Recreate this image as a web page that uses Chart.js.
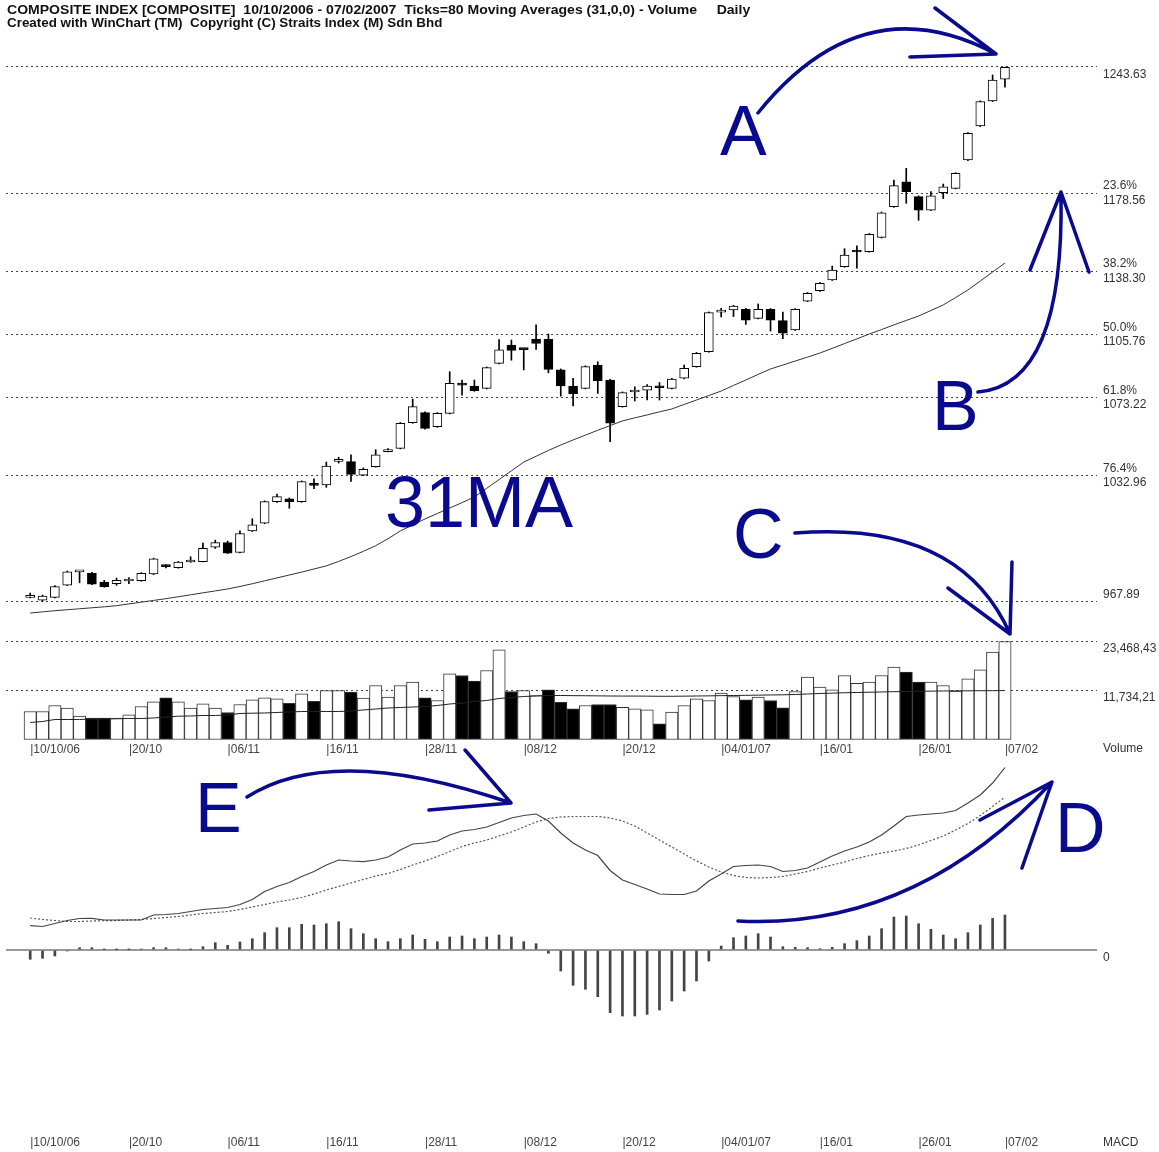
<!DOCTYPE html>
<html>
<head>
<meta charset="utf-8">
<title>Composite Index - WinChart</title>
<script src="https://cdn.jsdelivr.net/npm/chart.js@4.4.1/dist/chart.umd.min.js"></script>
<style>
  body { margin: 0; background: #fff; }
  #wrap { position: relative; width: 1159px; height: 1152px; overflow: hidden; font-family: 'Liberation Sans', Arial, sans-serif; }
  #wrap canvas { position: absolute; left: 0; top: 0; }
  .head { position: absolute; left: 7px; font-weight: bold; font-size: 13px; line-height: 13px; white-space: nowrap; transform-origin: 0 0; color: #111; }
  .cap { position: absolute; left: 1103px; font-size: 12px; line-height: 14px; color: #333; }
</style>
</head>
<body>
<div id="wrap">
  <canvas id="price" width="1159" height="1152"></canvas>
  <canvas id="volume" width="1159" height="1152"></canvas>
  <canvas id="macd" width="1159" height="1152"></canvas>
  <div class="head" data-w="743" style="top:3px">COMPOSITE INDEX [COMPOSITE]&nbsp; 10/10/2006 - 07/02/2007&nbsp; Ticks=80 Moving Averages (31,0,0) - Volume &nbsp;&nbsp;&nbsp; Daily</div>
  <div class="head" data-w="435" style="top:16px">Created with WinChart (TM)&nbsp; Copyright (C) Straits Index (M) Sdn Bhd</div>
  <div class="cap" style="top:741px">Volume</div>
  <div class="cap" style="top:1135px">MACD</div>
</div>
<script>
// date ticks (every 8 sessions + last day)
const dateTicks = [0, 8, 16, 24, 32, 40, 48, 56, 64, 72, 79];
const dateLabels = ['|10/10/06', '|20/10', '|06/11', '|16/11', '|28/11', '|08/12', '|20/12', '|04/01/07', '|16/01', '|26/01', '|07/02'];

// fibonacci levels on the price panel
const fibLevels = [967.89, 1032.96, 1073.22, 1105.76, 1138.30, 1178.56, 1243.63];
const fibLabels = [['967.89', ''], ['76.4%', '1032.96'], ['61.8%', '1073.22'], ['50.0%', '1105.76'], ['38.2%', '1138.30'], ['23.6%', '1178.56'], ['', '1243.63']];

const volLevels = [11734.21, 23468.43];
const volLabels = [['', '11,734,21'], ['', '23,468,43']];

const open = [970.3, 968.8, 970.3, 976.6, 983.4, 982.7, 978.1, 977.3, 978.7, 978.9,
  982.3, 986.9, 985.6, 988.5, 988.7, 996.1, 998.5, 993.4, 1004.5, 1008.5,
  1019.6, 1021.0, 1019.6, 1028.4, 1028.2, 1040.4, 1040.2, 1033.3, 1037.7, 1045.4,
  1047.1, 1060.3, 1065.5, 1058.2, 1065.1, 1080.1, 1079.2, 1078.0, 1090.9, 1100.3,
  1098.3, 1103.4, 1103.3, 1087.5, 1079.2, 1078.0, 1090.0, 1082.3, 1068.6, 1076.1,
  1077.1, 1078.7, 1078.0, 1083.2, 1089.2, 1096.9, 1117.3, 1118.4, 1118.7, 1114.1,
  1118.7, 1112.9, 1108.1, 1123.0, 1128.3, 1133.9, 1140.7, 1148.8, 1148.5, 1155.8,
  1171.6, 1184.5, 1176.8, 1169.9, 1178.8, 1181.1, 1195.7, 1213.2, 1226.1, 1237.4];
const high = [972.5, 971.5, 976.3, 983.8, 983.8, 983.2, 979.0, 980.2, 980.5, 983.0,
  990.5, 987.2, 988.8, 991.2, 998.2, 999.8, 999.3, 1004.6, 1010.8, 1020.0,
  1023.5, 1021.5, 1030.3, 1031.4, 1040.0, 1042.5, 1043.7, 1037.0, 1046.4, 1047.0,
  1060.4, 1072.4, 1065.9, 1065.5, 1086.6, 1082.3, 1082.3, 1089.0, 1103.2, 1102.9,
  1098.5, 1110.7, 1106.0, 1088.0, 1083.2, 1089.6, 1091.7, 1082.6, 1076.2, 1078.8,
  1080.0, 1081.0, 1083.2, 1090.0, 1096.5, 1117.4, 1119.3, 1120.8, 1119.2, 1121.5,
  1119.1, 1117.3, 1119.1, 1127.4, 1132.5, 1141.0, 1150.0, 1151.5, 1157.8, 1168.9,
  1185.4, 1191.4, 1177.2, 1179.4, 1183.3, 1189.2, 1209.8, 1226.2, 1239.5, 1243.63];
const low = [970.0, 968.3, 970.0, 976.3, 977.8, 976.8, 975.5, 976.5, 977.3, 978.6,
  982.0, 985.5, 985.3, 988.3, 988.5, 995.5, 992.8, 993.2, 1004.2, 1008.2,
  1019.2, 1016.2, 1019.3, 1026.3, 1027.0, 1039.5, 1030.0, 1033.0, 1037.4, 1045.2,
  1046.8, 1060.0, 1057.0, 1057.9, 1064.8, 1074.5, 1076.5, 1077.7, 1090.6, 1092.5,
  1087.5, 1098.1, 1086.0, 1074.0, 1068.9, 1077.7, 1075.4, 1050.5, 1068.3, 1071.5,
  1072.0, 1072.0, 1077.7, 1082.9, 1088.9, 1096.6, 1114.8, 1115.0, 1110.9, 1113.8,
  1107.5, 1103.6, 1107.8, 1122.7, 1128.0, 1133.6, 1140.4, 1140.0, 1148.2, 1155.5,
  1171.3, 1173.4, 1164.6, 1169.6, 1175.8, 1180.8, 1195.4, 1212.9, 1225.8, 1233.2];
const close = [970.8, 971.0, 975.8, 983.5, 983.6, 977.1, 975.8, 979.0, 979.2, 982.7,
  990.1, 986.1, 988.4, 989.5, 995.6, 998.5, 993.1, 1003.2, 1007.6, 1019.6,
  1022.2, 1019.6, 1029.9, 1028.0, 1038.0, 1040.6, 1033.7, 1036.3, 1043.7, 1046.4,
  1060.0, 1068.6, 1057.4, 1065.1, 1080.6, 1079.7, 1076.8, 1088.7, 1097.8, 1097.5,
  1098.0, 1101.2, 1087.8, 1079.2, 1075.1, 1089.2, 1082.0, 1060.0, 1075.8, 1076.5,
  1079.2, 1078.3, 1082.8, 1088.3, 1096.1, 1117.0, 1117.7, 1120.4, 1113.2, 1118.7,
  1113.2, 1106.4, 1118.7, 1127.0, 1132.1, 1139.0, 1146.7, 1148.3, 1157.4, 1168.5,
  1182.5, 1179.4, 1169.9, 1177.2, 1181.9, 1188.8, 1209.4, 1225.8, 1236.9, 1243.4];

// 31 day moving average
const ma31 = [962.2, 962.8, 963.4, 963.9, 964.4, 964.9, 965.4, 966.0, 966.9, 967.8,
  968.7, 969.6, 970.6, 971.6, 972.6, 973.6, 974.6, 975.9, 977.3, 978.8,
  980.3, 981.8, 983.3, 984.9, 986.5, 988.8, 991.3, 994.0, 996.9, 1000.5,
  1004.5, 1007.6, 1010.7, 1013.5, 1016.3, 1019.1, 1022.0, 1026.5, 1031.0, 1035.5,
  1040.0, 1043.0, 1046.0, 1048.8, 1051.4, 1053.9, 1056.4, 1058.8, 1061.2, 1062.8,
  1064.3, 1065.9, 1067.4, 1069.7, 1072.0, 1074.3, 1076.6, 1079.5, 1082.3, 1085.2,
  1088.0, 1090.0, 1092.1, 1094.1, 1096.2, 1098.6, 1101.1, 1103.5, 1106.0, 1108.3,
  1110.7, 1113.0, 1115.3, 1118.1, 1121.0, 1124.8, 1128.7, 1133.3, 1138.0, 1142.6];

const volume = [6700, 6700, 8150, 7500, 5600, 5100, 5100, 5100, 5900, 7900,
  9050, 9990, 9030, 7500, 8550, 7500, 6470, 8380, 9510, 9990,
  9750, 8690, 10950, 9170, 11740, 11740, 11330, 9890, 12930, 10130,
  12930, 13730, 9990, 9340, 15740, 15330, 13970, 16530, 21480, 11500,
  11740, 10540, 11900, 8930, 7350, 8140, 8380, 8380, 7700, 7350,
  7100, 3760, 6540, 8140, 9750, 9340, 11090, 10300, 9500, 10130,
  9340, 7590, 11500, 14930, 12530, 11900, 15330, 13480, 13730, 15330,
  17320, 16120, 13730, 13730, 12930, 11570, 14530, 16680, 20920, 23468];
const volumeMA = [4070, 4310, 4790, 4790, 4790, 4910, 4910, 4960, 5030, 5030,
  5150, 5390, 5580, 5630, 5750, 5750, 5870, 6230, 6300, 6350,
  6470, 6590, 6700, 6700, 6700, 6700, 6830, 7070, 7300, 7540,
  7660, 7780, 7900, 8140, 8500, 8740, 9100, 9340, 9820, 10060,
  10300, 10420, 10540, 10540, 10500, 10480, 10450, 10420, 10400, 10400,
  10380, 10350, 10350, 10380, 10420, 10450, 10500, 10540, 10580, 10620,
  10660, 10700, 10780, 10900, 11020, 11100, 11200, 11260, 11320, 11380,
  11450, 11500, 11550, 11580, 11620, 11640, 11660, 11680, 11700, 11720];

const macdLine = [2.43, 2.35, 2.65, 2.95, 3.15, 3.17, 3.0, 3.0, 3.0, 3.0,
  3.5, 3.55, 3.65, 3.85, 4.05, 4.15, 4.25, 4.55, 5.05, 5.85,
  6.35, 6.75, 7.35, 7.85, 8.5, 9.0, 8.9, 8.83, 9.0, 9.3,
  10.0, 10.6, 10.7, 10.9, 11.5, 11.9, 12.05, 12.3, 12.75, 13.2,
  13.45, 13.6, 12.9, 11.7, 10.7, 10.0, 9.45, 7.95, 7.0, 6.55,
  6.1, 5.6, 5.55, 5.55, 5.9, 6.9, 7.6, 8.35, 8.45, 8.5,
  8.35, 7.85, 7.95, 8.2, 8.8, 9.4, 9.9, 10.3, 10.8, 11.5,
  12.4, 13.35, 13.5, 13.6, 13.7, 13.95, 14.7, 15.5, 16.7, 18.25];
const signalLine = [3.2, 3.05, 2.95, 2.85, 2.85, 2.9, 2.93, 2.95, 3.0, 3.05,
  3.15, 3.25, 3.35, 3.5, 3.65, 3.75, 3.85, 4.05, 4.3, 4.55,
  4.8, 5.0, 5.25, 5.6, 6.0, 6.35, 6.7, 7.05, 7.4, 7.65,
  8.05, 8.5, 8.9, 9.35, 9.85, 10.35, 10.7, 11.0, 11.4, 11.8,
  12.3, 12.8, 13.15, 13.3, 13.35, 13.35, 13.35, 13.2, 12.9, 12.4,
  11.7, 11.0, 10.3, 9.6, 8.9, 8.3, 7.8, 7.45, 7.25, 7.2,
  7.25, 7.35, 7.6, 7.85, 8.2, 8.5, 8.8, 9.15, 9.45, 9.7,
  9.9, 10.15, 10.5, 10.95, 11.4, 12.0, 12.65, 13.45, 14.35, 15.3];
const macdHist = [-0.93, -0.83, -0.6, -0.1, 0.23, 0.23, 0.05, 0.03, 0.03, 0.08,
  0.23, 0.23, 0.1, 0.05, 0.33, 0.73, 0.47, 0.8, 1.13, 1.73,
  2.23, 2.23, 2.57, 2.5, 2.63, 2.83, 2.13, 1.63, 1.13, 0.83,
  1.13, 1.5, 1.07, 0.83, 1.3, 1.4, 1.13, 1.3, 1.5, 1.3,
  0.83, 0.63, -0.33, -2.1, -3.53, -3.93, -4.67, -6.27, -6.6, -6.6,
  -6.43, -6.0, -5.1, -4.1, -3.1, -1.1, 0.4, 1.23, 1.4, 1.63,
  1.3, 0.33, 0.27, 0.23, 0.13, 0.27, 0.63, 0.93, 1.4, 2.13,
  3.3, 3.4, 2.63, 2.07, 1.5, 1.13, 1.73, 2.5, 3.17, 3.5];

// shared horizontal mapping (same for all three panels)
const xMin = -1.961, xMax = 86.46;
const tickFont = { family: "'Liberation Sans', Arial, sans-serif", size: 12 };
const ink = '#0a0a8f';

Chart.defaults.font.family = tickFont.family;
Chart.defaults.animation = false;
Chart.defaults.plugins.legend.display = false;
Chart.defaults.plugins.tooltip.enabled = false;

const pts = arr => arr.map((v, i) => ({ x: i, y: v }));

// hand drawn letters and arrows, positioned in data units of each panel
const notes = {
  id: 'notes',
  afterDraw(chart, args, opts) {
    const { ctx, scales: { x, y } } = chart;
    const px = p => [x.getPixelForValue(p[0]), y.getPixelForValue(p[1])];
    ctx.save();
    ctx.strokeStyle = ink;
    ctx.fillStyle = ink;
    ctx.lineWidth = 3.5;
    ctx.lineCap = 'round';
    ctx.lineJoin = 'round';
    (opts.arrows || []).forEach(a => {
      const p0 = px(a.from), c = px(a.ctrl), p2 = px(a.to);
      ctx.beginPath();
      ctx.moveTo(p0[0], p0[1]);
      ctx.quadraticCurveTo(c[0], c[1], p2[0], p2[1]);
      a.head.forEach(h => {
        const q = px(h);
        ctx.moveTo(p2[0], p2[1]);
        ctx.lineTo(q[0], q[1]);
      });
      ctx.stroke();
    });
    (opts.labels || []).forEach(l => {
      const p = px(l.at);
      ctx.font = l.size + "px 'Liberation Sans', Arial, sans-serif";
      ctx.textBaseline = 'alphabetic';
      ctx.fillText(l.text, p[0], p[1]);
    });
    ctx.restore();
  }
};

const xAxis = (show, h, pad) => ({
  type: 'linear', min: xMin, max: xMax, offset: false, display: show,
  grid: { display: false, drawTicks: false }, border: { display: false },
  afterBuildTicks: s => { s.ticks = dateTicks.map(v => ({ value: v })); },
  afterFit: s => { s.height = h; s.paddingLeft = 0; s.paddingRight = 0; },
  ticks: { autoSkip: false, maxRotation: 0, align: 'start', padding: pad, font: tickFont, color: '#444',
    callback: (v, i) => dateLabels[i] }
});

const yRight = (levels, labels, min, max, dash, color, width) => ({
  position: 'right', min: min, max: max,
  afterBuildTicks: s => { s.ticks = levels.map(v => ({ value: v })); },
  afterFit: s => { s.width = 62; s.paddingTop = 0; s.paddingBottom = 0; },
  grid: { color: color, lineWidth: width, drawTicks: false, borderDash: dash },
  border: { display: false, dash: dash },
  ticks: { padding: 6, font: tickFont, color: '#333', callback: (v, i) => labels[i] }
});

// price panel: candles + 31MA
new Chart(document.getElementById('price'), {
  type: 'bar',
  data: {
    datasets: [
      { type: 'line', data: pts(ma31), borderColor: '#333', borderWidth: 1, pointRadius: 0, order: 0 },
      { data: open.map((o, i) => ({ x: i, y: [o, close[i]] })),
        backgroundColor: open.map((o, i) => close[i] >= o ? '#fff' : '#000'),
        borderColor: '#000', borderWidth: 1, borderSkipped: false, barThickness: 9, minBarLength: 2, grouped: false, order: 1 },
      { data: low.map((l, i) => ({ x: i, y: [l, high[i]] })),
        backgroundColor: '#000', barThickness: 1, grouped: false, order: 2 }
    ]
  },
  options: {
    responsive: false,
    devicePixelRatio: 1,
    layout: { padding: { left: 6, right: 0, top: 0, bottom: 532 } },
    scales: {
      x: xAxis(false, 0, 0),
      y: yRight(fibLevels, fibLabels, 958.61, 1278.16, [2, 3], '#444', 1)
    },
    plugins: {
      notes: {
        labels: [
          { text: 'A', at: [55.90, 1198.27], size: 70 },
          { text: 'B', at: [73.08, 1056.54], size: 70 },
          { text: 'C', at: [56.96, 990.57], size: 70 },
          { text: '31MA', at: [28.75, 1006.55], size: 72 }
        ],
        arrows: [
          { from: [58.98, 1219.92], ctrl: [67.49, 1286.92], to: [78.27, 1250.33], head: [[73.33, 1274.04], [71.30, 1248.78]] },
          { from: [76.81, 1076.12], ctrl: [83.86, 1079.73], to: [83.54, 1179.20], head: [[81.03, 1139.0], [85.81, 1137.97]] },
          { from: [61.98, 1003.45], ctrl: [75.35, 1010.15], to: [79.41, 951.40], head: [[79.57, 988.51], [74.38, 975.10]] }
        ]
      }
    }
  },
  plugins: [notes]
});

// volume panel, bar colour follows close vs previous close
new Chart(document.getElementById('volume'), {
  type: 'bar',
  data: {
    datasets: [
      { type: 'line', data: pts(volumeMA), borderColor: '#222', borderWidth: 1, pointRadius: 0, order: 0 },
      { data: pts(volume),
        backgroundColor: close.map((c, i) => (i === 0 || c >= close[i - 1]) ? '#fff' : '#000'),
        borderColor: '#333', borderWidth: 1, borderSkipped: false, barThickness: 12.34, grouped: false, order: 1 }
    ]
  },
  options: {
    responsive: false,
    devicePixelRatio: 1,
    layout: { padding: { left: 6, right: 0, top: 625, bottom: 392 } },
    scales: {
      x: xAxis(true, 20, 2),
      y: yRight(volLevels, volLabels, -120, 27419, [2, 3], '#444', 1)
    }
  }
});

// MACD panel
new Chart(document.getElementById('macd'), {
  type: 'bar',
  data: {
    datasets: [
      { type: 'line', data: pts(macdLine), borderColor: '#444', borderWidth: 1.2, pointRadius: 0, order: 0 },
      { type: 'line', data: pts(signalLine), borderColor: '#555', borderWidth: 1.2, borderDash: [2, 2], pointRadius: 0, order: 0 },
      { data: pts(macdHist), backgroundColor: '#444', barThickness: 2, grouped: false, order: 1 }
    ]
  },
  options: {
    responsive: false,
    devicePixelRatio: 1,
    layout: { padding: { left: 6, right: 0, top: 760, bottom: 0 } },
    scales: {
      x: xAxis(true, 22, 5),
      y: yRight([0], [['', '0']], -18, 19, [], '#999', 2)
    },
    plugins: {
      notes: {
        labels: [
          { text: 'D', at: [83.05, 9.8], size: 70 },
          { text: 'E', at: [13.36, 11.8], size: 70 }
        ],
        arrows: [
          { from: [57.36, 2.9], ctrl: [71.71, 2.0], to: [82.81, 16.8], head: [[76.97, 13.0], [80.38, 8.2]] },
          { from: [17.57, 15.3], ctrl: [24.54, 20.8], to: [38.97, 14.7], head: [[35.24, 20.0], [32.32, 14.0]] }
        ]
      }
    }
  },
  plugins: [notes]
});

// squeeze the header lines to the narrow width of the original
document.querySelectorAll('.head').forEach(el => {
  el.style.transform = 'scaleX(' + (+el.dataset.w / el.offsetWidth) + ')';
});
</script>
</body>
</html>
